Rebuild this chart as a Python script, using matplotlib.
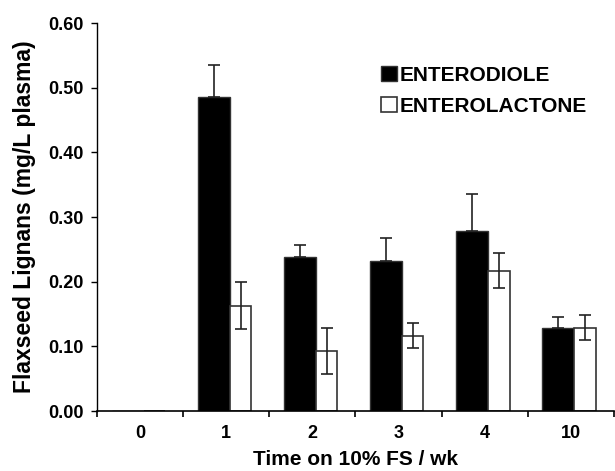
import matplotlib
matplotlib.use("Agg")
import matplotlib.pyplot as plt
import numpy as np

categories = ["0", "1", "2", "3", "4", "10"]
enterodiole = [0.0, 0.485, 0.239, 0.232, 0.279, 0.129]
enterodiole_err = [0.0, 0.050, 0.018, 0.036, 0.056, 0.017]
enterolactone = [0.0, 0.163, 0.093, 0.117, 0.217, 0.129]
enterolactone_err = [0.0, 0.036, 0.036, 0.019, 0.027, 0.019]

plt.rcParams['font.family'] = ['Liberation Sans', 'DejaVu Sans']
plt.rcParams['font.weight'] = 'bold'

fig = plt.figure(figsize=(6.15, 4.71), dpi=100)
ax = fig.add_axes([0.158, 0.127, 0.840, 0.824])

x = np.arange(len(categories))
ed_left, ed_w = -0.33, 0.37
el_left, el_w = 0.04, 0.25

ax.bar(x + ed_left, enterodiole, width=ed_w, align='edge', color='black',
       edgecolor='#333333', linewidth=1.0, label='ENTERODIOLE', zorder=2)
ax.bar(x + el_left, enterolactone, width=el_w, align='edge', color='white',
       edgecolor='#333333', linewidth=1.2, label='ENTEROLACTONE', zorder=2)

m = np.array(enterodiole) > 0
ax.errorbar((x + ed_left + ed_w / 2)[m], np.array(enterodiole)[m],
            yerr=[np.zeros(m.sum()), np.array(enterodiole_err)[m]],
            fmt='none', ecolor='#222222', elinewidth=1.2, capsize=4, capthick=1.2, zorder=3)
m2 = np.array(enterolactone) > 0
ax.errorbar((x + el_left + el_w / 2)[m2], np.array(enterolactone)[m2],
            yerr=np.array(enterolactone_err)[m2],
            fmt='none', ecolor='#222222', elinewidth=1.2, capsize=4, capthick=1.2, zorder=3)

ax.set_xlim(-0.5, len(categories) - 0.5)
ax.set_ylim(0, 0.6)
ax.set_yticks(np.arange(0, 0.61, 0.1))
ax.set_yticklabels([f"{v:.2f}" for v in np.arange(0, 0.61, 0.1)], fontsize=13, fontweight='bold')
ax.set_xticks(x)
ax.set_xticklabels(categories, fontsize=13, fontweight='bold')
ax.tick_params(axis='x', which='major', length=0, pad=10)
ax.set_xticks(np.arange(-0.5, len(categories) + 0.5, 1), minor=True)
ax.tick_params(axis='x', which='minor', length=4.5, width=1.2, direction='out')
ax.tick_params(axis='y', length=4.5, width=1.0, direction='out', pad=5)

for s in ['top', 'right']:
    ax.spines[s].set_visible(False)
ax.spines['left'].set_linewidth(1.0)
ax.spines['bottom'].set_linewidth(1.2)

ax.set_ylabel("Flaxseed Lignans (mg/L plasma)", fontsize=16.5, fontweight='bold', labelpad=9)
ax.set_xlabel("Time on 10% FS / wk", fontsize=15, fontweight='bold', labelpad=6)

leg = ax.legend(loc='upper left', bbox_to_anchor=(0.533, 0.912), frameon=False,
                prop={'size': 15, 'weight': 'bold'}, handlelength=0.77, handleheight=0.73,
                handletextpad=0.15, labelspacing=0.6, borderaxespad=0)

fig.savefig("out.png", dpi=100)
